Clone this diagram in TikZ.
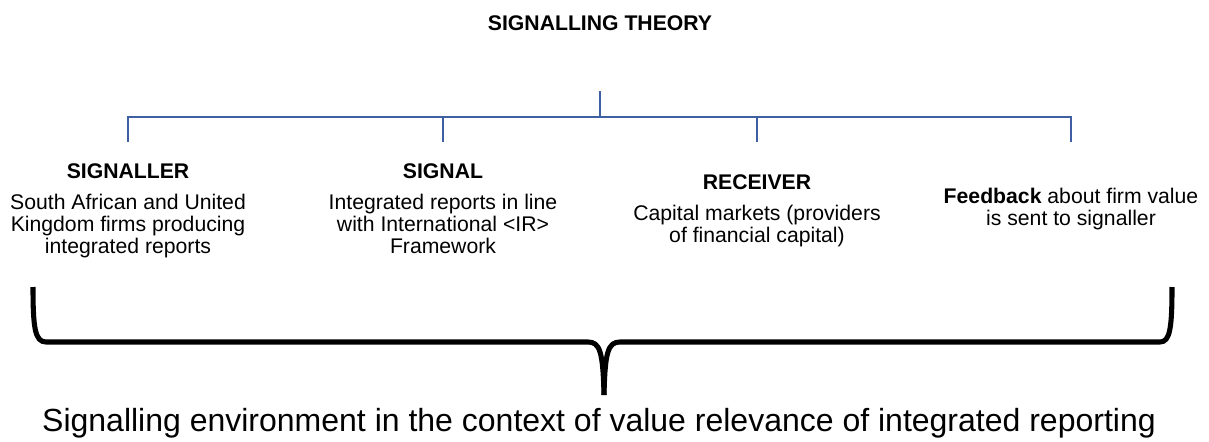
\documentclass[tikz,border=0pt]{standalone}
\usepackage{fontspec}
\setmainfont{Liberation Sans}
\usetikzlibrary{positioning}

\definecolor{treeblue}{RGB}{62,96,163}

\tikzset{
  branch/.style={draw=treeblue, line width=1.8pt},
  brace/.style={draw=black, line width=3.8pt, line join=round},
  head/.style={font=\fontsize{15.9}{16.5}\selectfont\bfseries, inner sep=0pt},
  body/.style={font=\fontsize{15.9}{16.5}\selectfont, align=center, inner sep=0pt},
}

\begin{document}
\begin{tikzpicture}[x=0.75pt,y=-0.75pt]
	\useasboundingbox (0,0) rectangle (1209,442);

	\node (title) at (600,23) [head] {SIGNALLING THEORY};

	% tree
	\coordinate (root) at (600,91);
	\coordinate (bus) at (600,117);
	\coordinate (e1) at (128,142);
	\coordinate (e2) at (443,142);
	\coordinate (e3) at (757,142);
	\coordinate (e4) at (1071,142);

	\draw [branch] (root) -- (bus);
	\draw [branch] (e1) |- (bus) -| (e4);
	\draw [branch] (e2) -- (e2 |- bus);
	\draw [branch] (e3) -- (e3 |- bus);

	% the four parts
	\node (signaller) at (128,171) [head] {SIGNALLER};
	\node (signallerTxt) [body, below=11pt of signaller] {South African and United\\Kingdom firms producing\\integrated reports};

	\node (signal) at (443,171) [head] {SIGNAL};
	\node (signalTxt) [body, below=11pt of signal] {Integrated reports in line\\with International <IR>\\Framework};

	\node (receiver) at (757,182) [head] {RECEIVER};
	\node (receiverTxt) [body, below=11pt of receiver] {Capital markets (providers\\of financial capital)};

	\node (feedback) at (1071,209) [body] {\textbf{Feedback} about firm value\\is sent to signaller};

	% brace
	\coordinate (braceL) at (33,287);
	\coordinate (braceR) at (1172,287);
	\coordinate (tip) at (604,395);

	\draw [brace] (braceL) .. controls (33,328) and (35,342) .. (46,342) -- (588,342) .. controls (600,342) and (603,352) .. (tip);
	\draw [brace] (tip) .. controls (605,352) and (608,342) .. (620,342) -- (1160,342) .. controls (1170,342) and (1172,328) .. (braceR);

	\node (env) at (599,431) [anchor=base, inner sep=0pt, font=\fontsize{24}{28}\selectfont] {Signalling environment in the context of value relevance of integrated reporting};
\end{tikzpicture}
\end{document}
